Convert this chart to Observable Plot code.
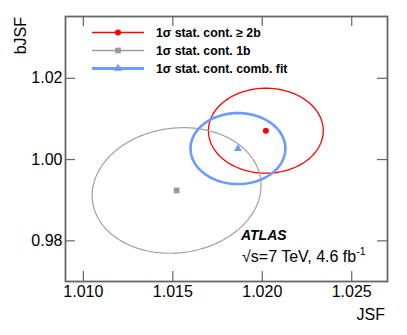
<!DOCTYPE html>
<html>
<head>
<meta charset="utf-8">
<script src="https://cdn.jsdelivr.net/npm/d3@7"></script>
<script src="https://cdn.jsdelivr.net/npm/@observablehq/plot@0.6"></script>
<style>
  html, body { margin: 0; padding: 0; background: #fff; }
  #wrap { position: relative; width: 407px; height: 335px; overflow: hidden; font-family: "Liberation Sans", Arial, Helvetica, sans-serif; }
  #wrap svg { position: absolute; left: 0; top: 0; }
</style>
</head>
<body>
<div id="wrap"></div>
<script>
// ---- data ----
const seriesNames = ["1σ stat. cont. ≥ 2b", "1σ stat. cont. 1b", "1σ stat. cont. comb. fit"];
const centerJSF   = [1.02020, 1.01521, 1.01864];
const centerBJSF  = [1.00710, 0.99240, 1.00271];
const sigmaJSF    = [0.00321, 0.00472, 0.00265];
const sigmaBJSF   = [0.01045, 0.01545, 0.00873];
const correlation = [0.0, 0.08, 0.0];
const colors      = ["#ff0000", "#a0a0a0", "#6a9bff"];
const markerColors = ["#ff0000", "#999999", "#6a9bff"];
const lineWidths  = [1.3, 1.2, 2.6];
const symbols     = ["circle", "square", "triangle"];
const markerR     = [3, 3.2, 3];
const xTicks = [1.010, 1.015, 1.020, 1.025];
const yTicks = [0.98, 1.00, 1.02];
const xDomain = [1.0090, 1.0270];
const yDomain = [0.9700, 1.0352];

// 1-sigma contour points from each fit's centre, widths and correlation
const contours = seriesNames.map((name, i) => {
  const pts = [];
  const N = 180;
  for (let k = 0; k < N; k++) {
    const t = 2 * Math.PI * k / N;
    const r = correlation[i];
    pts.push({
      series: name,
      x: centerJSF[i] + sigmaJSF[i] * Math.cos(t),
      y: centerBJSF[i] + sigmaBJSF[i] * (r * Math.cos(t) + Math.sqrt(1 - r * r) * Math.sin(t))
    });
  }
  return pts;
});
const centers = seriesNames.map((name, i) => ({series: name, x: centerJSF[i], y: centerBJSF[i], i}));

const W = 407, H = 335;
const mL = 65, mR = 20, mT = 16, mB = 54;
const frameH = H - mT - mB;
const frameW = W - mL - mR;
const tickLen = 10;
const axisColor = "#666666";

const marks = [
  Plot.axisX({ticks: xTicks, tickSize: 0, tickPadding: 4, tickFormat: d3.format(".3f"), label: null, fontSize: 16}),
  Plot.axisY({ticks: yTicks, tickSize: 0, tickPadding: 3, tickFormat: d3.format(".2f"), label: null, fontSize: 16}),
  // inward major ticks on all four sides
  Plot.tickX(xTicks, {x: d => d, insetTop: frameH - tickLen, stroke: axisColor, strokeWidth: 1.2}),
  Plot.tickX(xTicks, {x: d => d, insetBottom: frameH - tickLen, stroke: axisColor, strokeWidth: 1.2}),
  Plot.tickY(yTicks, {y: d => d, insetRight: frameW - tickLen, stroke: axisColor, strokeWidth: 1.2}),
  Plot.tickY(yTicks, {y: d => d, insetLeft: frameW - tickLen, stroke: axisColor, strokeWidth: 1.2}),
];
contours.forEach((pts, i) => {
  marks.push(Plot.line(pts, {x: "x", y: "y", curve: "linear-closed", stroke: colors[i], strokeWidth: lineWidths[i]}));
});
centers.forEach((c, i) => {
  marks.push(Plot.dot([c], {x: "x", y: "y", symbol: symbols[i], r: markerR[i], fill: markerColors[i], stroke: "none"}));
});
marks.push(Plot.frame({stroke: axisColor, strokeWidth: 1.8}));

const chart = Plot.plot({
  width: W, height: H,
  marginLeft: mL, marginRight: mR, marginTop: mT, marginBottom: mB,
  x: {domain: xDomain},
  y: {domain: yDomain},
  style: {fontFamily: "'Liberation Sans', Arial, Helvetica, sans-serif", fontSize: "16px", color: "#000", background: "#fff", overflow: "visible"},
  marks
});
document.getElementById("wrap").appendChild(chart);

// ---- overlay: legend, axis titles, ATLAS label ----
const ns = "http://www.w3.org/2000/svg";
const ov = d3.select("#wrap").append("svg")
  .attr("xmlns", ns).attr("width", W).attr("height", H)
  .style("font-family", "'Liberation Sans', Arial, Helvetica, sans-serif");

const legX1 = 92, legX2 = 144, legMark = 118, legTextX = 156, legY0 = 32.5, legDy = 18;
seriesNames.forEach((name, i) => {
  const y = legY0 + i * legDy;
  ov.append("line").attr("x1", legX1).attr("x2", legX2).attr("y1", y).attr("y2", y)
    .attr("stroke", colors[i]).attr("stroke-width", lineWidths[i] + 0.3);
  ov.append("path").attr("transform", `translate(${legMark},${y})`)
    .attr("d", d3.symbol(i === 0 ? d3.symbolCircle : i === 1 ? d3.symbolSquare : d3.symbolTriangle, Math.PI * markerR[i] * markerR[i])())
    .attr("fill", markerColors[i]);
  ov.append("text").attr("x", legTextX).attr("y", y + 4.5)
    .attr("font-size", 12.3).attr("font-weight", "bold").attr("fill", "#000").text(name);
});

ov.append("text").attr("transform", "translate(26,17) rotate(-90)")
  .attr("text-anchor", "end").attr("font-size", 16).text("bJSF");
ov.append("text").attr("x", 385).attr("y", 320)
  .attr("text-anchor", "end").attr("font-size", 16).text("JSF");

ov.append("text").attr("x", 241).attr("y", 240)
  .attr("font-size", 14).attr("font-weight", "bold").attr("font-style", "italic").text("ATLAS");
const lum = ov.append("text").attr("x", 242).attr("y", 262).attr("font-size", 16);
lum.append("tspan").text("√s=7 TeV, 4.6 fb");
lum.append("tspan").attr("font-size", 10.5).attr("dy", -7).text("-1");
</script>
</body>
</html>
